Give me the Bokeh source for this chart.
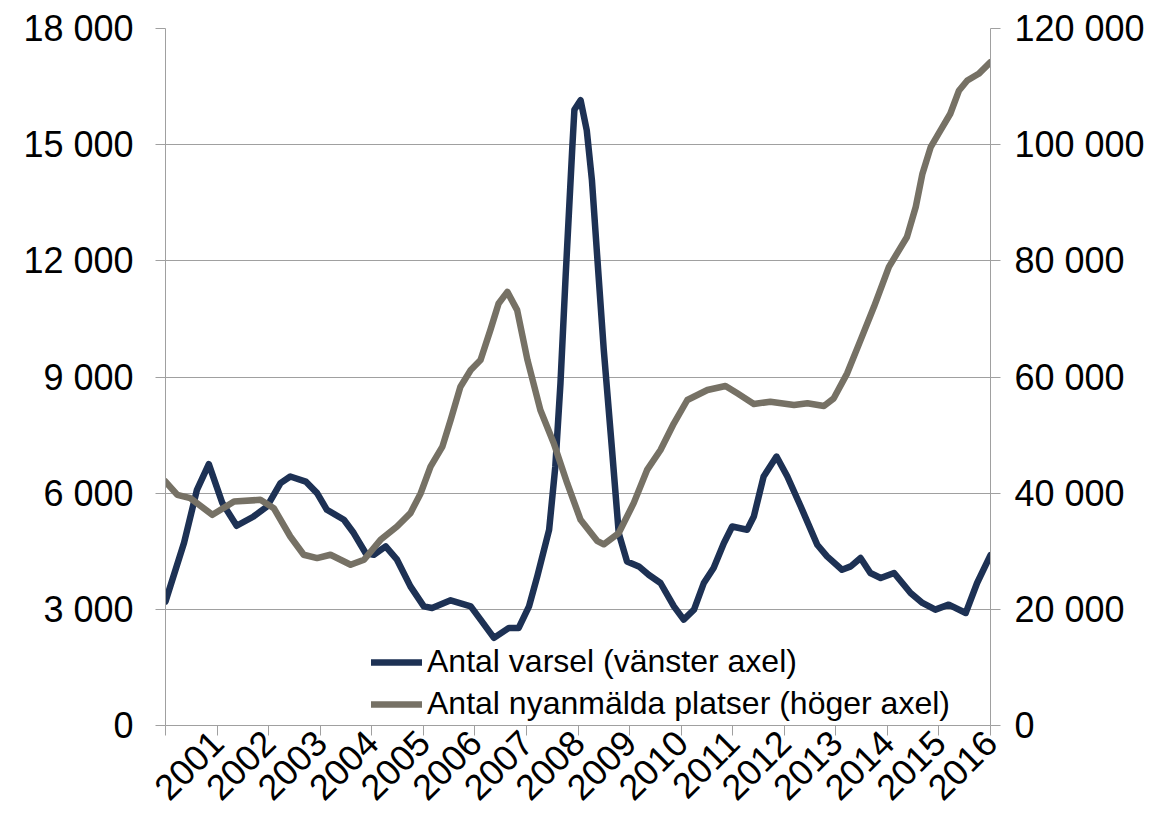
import math
from bokeh.plotting import figure
from bokeh.models import Range1d, LinearAxis, FixedTicker, Legend, LegendItem
from bokeh.embed import file_html
from bokeh.resources import INLINE

# ---- data ----
varsel_t = [2000.00, 2000.36, 2000.61, 2000.84, 2001.10, 2001.38, 2001.71, 2001.97,
            2002.23, 2002.42, 2002.72, 2002.94, 2003.13, 2003.46, 2003.65, 2003.88,
            2004.04, 2004.27, 2004.49, 2004.75, 2005.01, 2005.17, 2005.53, 2005.92,
            2006.11, 2006.37, 2006.66, 2006.85, 2007.05, 2007.21, 2007.44, 2007.56,
            2007.66, 2007.76, 2007.89, 2007.93, 2008.05, 2008.17, 2008.27, 2008.40,
            2008.50, 2008.66, 2008.79, 2008.95, 2009.18, 2009.37, 2009.60, 2009.86,
            2010.05, 2010.25, 2010.44, 2010.63, 2010.83, 2010.99, 2011.28, 2011.41,
            2011.60, 2011.85, 2012.06, 2012.32, 2012.64, 2012.83, 2013.12, 2013.29,
            2013.48, 2013.67, 2013.87, 2014.13, 2014.45, 2014.68, 2014.93, 2015.19,
            2015.52, 2015.74, 2016.00]
varsel = [3200, 4720, 6087, 6750, 5751, 5158, 5398, 5656,
          6259, 6430, 6300, 6001, 5571, 5313, 4970, 4454,
          4410, 4624, 4281, 3593, 3077, 3035, 3232, 3077,
          2734, 2262, 2520, 2520, 3077, 3851, 5055, 6687,
          8838, 11600, 14940, 15900, 16150, 15370, 14080, 11590,
          9697, 7118, 4970, 4238, 4109, 3894, 3680, 3077,
          2734, 2992, 3680, 4067, 4712, 5140, 5055, 5398,
          6430, 6945, 6430, 5656, 4668, 4367, 4023, 4109,
          4324, 3938, 3809, 3938, 3422, 3165, 2992, 3121,
          2906, 3680, 4400]

platser_t = [2000.00, 2000.23, 2000.48, 2000.91, 2001.33, 2001.84, 2002.10, 2002.42,
             2002.68, 2002.94, 2003.20, 2003.59, 2003.85, 2004.17, 2004.49, 2004.75,
             2004.95, 2005.14, 2005.37, 2005.53, 2005.72, 2005.92, 2006.11, 2006.30,
             2006.46, 2006.63, 2006.82, 2007.02, 2007.27, 2007.53, 2007.79, 2008.05,
             2008.37, 2008.50, 2008.79, 2009.08, 2009.34, 2009.60, 2009.86, 2010.12,
             2010.51, 2010.86, 2011.09, 2011.41, 2011.73, 2012.19, 2012.45, 2012.77,
             2012.96, 2013.22, 2013.48, 2013.74, 2014.03, 2014.38, 2014.55, 2014.68,
             2014.84, 2015.03, 2015.22, 2015.39, 2015.55, 2015.77, 2016.00]
platser = [42000, 39700, 39140, 36270, 38560, 38850, 37420, 32540,
           29400, 28830, 29400, 27680, 28540, 31970, 34260, 36560,
           40000, 44570, 48010, 52600, 58330, 61200, 62920, 68070,
           72660, 74660, 71510, 62920, 54320, 48590, 41720, 35410,
           31800, 31200, 33130, 38280, 44000, 47440, 52030, 56040,
           57760, 58450, 57190, 55350, 55750, 55180, 55470, 55010,
           56330, 60630, 66350, 72080, 78960, 84110, 89270, 95000,
           99580, 102450, 105320, 109330, 111050, 112200, 114200]

x_ticks = [2000, 2001, 2002, 2003, 2004, 2005, 2006, 2007, 2008,
           2009, 2010, 2011, 2012, 2013, 2014, 2015, 2016]
x_labels = ["", "2001", "2002", "2003", "2004", "2005", "2006", "2007", "2008",
            "2009", "2010", "2011", "2012", "2013", "2014", "2015", "2016"]
left_ticks = [0, 3000, 6000, 9000, 12000, 15000, 18000]
left_labels = ["0", "3 000", "6 000", "9 000", "12 000", "15 000", "18 000"]
right_ticks = [0, 20000, 40000, 60000, 80000, 100000, 120000]
right_labels = ["0", "20 000", "40 000", "60 000", "80 000", "100 000", "120 000"]

series_names = ["Antal varsel (vänster axel)", "Antal nyanmälda platser (höger axel)"]

NAVY = "#1D3154"
GREY = "#767165"
AXIS_GREY = "#A0A0A0"
FONT = "Liberation Sans"

p = figure(width=1147, height=814, output_backend="svg", toolbar_location=None,
           x_range=Range1d(2000, 2016), y_range=Range1d(0, 18000),
           min_border_left=165, min_border_right=157, min_border_top=28,
           min_border_bottom=88)
p.extra_y_ranges = {"right": Range1d(0, 120000)}
p.outline_line_color = None
p.xgrid.visible = False
p.ygrid.grid_line_color = AXIS_GREY
p.ygrid.grid_line_width = 1
p.ygrid.ticker = FixedTicker(ticks=left_ticks)

def style_axis(ax):
    ax.axis_line_color = AXIS_GREY
    ax.major_tick_line_color = AXIS_GREY
    ax.major_tick_out = 10
    ax.major_tick_in = 0
    ax.minor_tick_line_color = None
    ax.major_label_text_font = FONT
    ax.major_label_text_font_size = "36px"
    ax.major_label_text_color = "black"

xa = p.xaxis[0]
xa.ticker = FixedTicker(ticks=x_ticks)
xa.major_label_overrides = {t: l for t, l in zip(x_ticks, x_labels)}
xa.major_label_orientation = math.pi / 4
xa.major_label_standoff = 1
style_axis(xa)

ya = p.yaxis[0]
ya.ticker = FixedTicker(ticks=left_ticks)
ya.major_label_overrides = {t: l for t, l in zip(left_ticks, left_labels)}
ya.major_label_standoff = 22
style_axis(ya)

ra = LinearAxis(y_range_name="right", ticker=FixedTicker(ticks=right_ticks))
ra.major_label_overrides = {t: l for t, l in zip(right_ticks, right_labels)}
ra.major_label_standoff = 14
style_axis(ra)
p.add_layout(ra, "right")

r1 = p.line(varsel_t, varsel, line_color=NAVY, line_width=6.5,
            line_join="round", line_cap="round")
r2 = p.line(platser_t, platser, line_color=GREY, line_width=6.5,
            line_join="round", line_cap="round", y_range_name="right")

legend = Legend(items=[LegendItem(label=series_names[0], renderers=[r1]),
                       LegendItem(label=series_names[1], renderers=[r2])],
                location=(206, 3), orientation="vertical",
                label_text_font=FONT, label_text_font_size="32px",
                label_text_color="black", glyph_width=51, glyph_height=36,
                label_height=36, label_standoff=5, spacing=5, padding=0,
                margin=0, border_line_color=None, background_fill_alpha=0)
p.add_layout(legend, "center")

open("out.html", "w").write(file_html(p, INLINE))
